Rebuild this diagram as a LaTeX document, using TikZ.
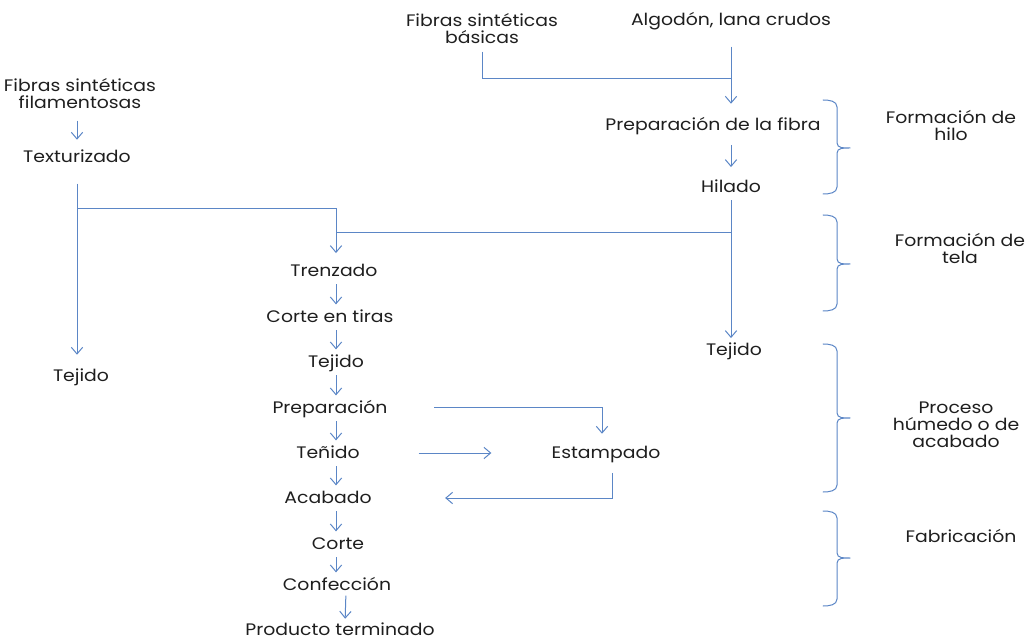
\documentclass[tikz,border=0pt]{standalone}
\usepackage{fontspec}
\setmainfont[FakeStretch=1.13]{Poppins}
\usetikzlibrary{arrows.meta}
\definecolor{flujo}{RGB}{91,134,198}
\definecolor{texto}{RGB}{30,30,30}
\begin{document}
\begin{tikzpicture}[x=0.75pt,y=-0.75pt,
  nota/.style={font=\fontsize{12.5}{12.75}\selectfont, text=texto, inner sep=0pt, align=center},
  paso/.style={nota, text height=8.5pt, text depth=0pt},
  linea/.style={draw=flujo, line width=0.75pt},
  flecha/.style={linea, -{Straight Barb[length=5pt,width=8.5pt]}},
  llave/.style={draw=flujo, line width=0.75pt, line cap=round}]
\useasboundingbox (0,0) rectangle (1028,641);
\coordinate (main) at (336,0);
\node[nota] (fsb) at (482,29) {Fibras sintéticas\\básicas};
\node[paso] (alg) at (731,20) {Algodón, lana crudos};
\node[paso] (prepf) at (713,125) {Preparación de la fibra};
\node[paso] (hil) at (731,187) {Hilado};
\node[paso] (tejr) at (734,350) {Tejido};
\node[nota] (fsf) at (80,94) {Fibras sintéticas\\filamentosas};
\node[paso] (tex) at (77,157) {Texturizado};
\node[paso] (tejl) at (81,376) {Tejido};
\node[paso] (trenz) at (334,271) {Trenzado};
\node[paso] (ctir) at (330,317) {Corte en tiras};
\node[paso] (tejm) at (336,362) {Tejido};
\node[paso] (prep) at (330,408) {Preparación};
\node[paso] (ten) at (328,453) {Teñido};
\node[paso] (acab) at (328,498) {Acabado};
\node[paso] (corte) at (338,544) {Corte};
\node[paso] (conf) at (337,585) {Confección};
\node[paso] (prod) at (340,630) {Producto terminado};
\node[paso] (estamp) at (606,453) {Estampado};
\node[nota] (fhilo) at (951,126) {Formación de\\hilo};
\node[nota] (ftela) at (960,249) {Formación de\\tela};
\node[nota] (proc) at (956,425) {Proceso\\húmedo o de\\acabado};
\node[paso] (fabr) at (961,537) {Fabricación};
\coordinate (j1) at (731,79);
\coordinate (j2) at (731,233);
\coordinate (j3) at (77,209);
\draw[linea, shorten <=5.5pt] (fsb.south) |- (j1);
\draw[flecha, shorten <=15.5pt, shorten >=11.5pt] (alg.south) -- (alg.south |- prepf.north);
\draw[flecha, shorten <=10.5pt, shorten >=10.5pt] (prepf.south -| hil) -- (hil.north);
\draw[flecha, shorten <=5.5pt, shorten >=4.5pt] (hil.south) -- (hil.south |- tejr.north);
\draw[linea] (j2) -- (j2 -| main);
\draw[flecha, shorten <=8.5pt, shorten >=8.5pt] (fsf.south -| tex) -- (tex.north);
\draw[flecha, shorten <=15.5pt, shorten >=11.5pt] (tex.south) -- (tex.south |- tejl.north);
\draw[flecha, shorten >=9pt] (j3) -| (trenz.north -| main);
\foreach \a/\b in {trenz/ctir, ctir/tejm, tejm/prep, prep/ten, ten/acab, acab/corte, corte/conf}
  \draw[flecha, shorten <=5.5pt, shorten >=5pt] (\a.south -| main) -- (\b.north -| main);
\draw[flecha, shorten <=3.5pt, shorten >=4pt] ([xshift=6.75pt]conf.south) -- ([xshift=3.75pt]prod.north);
\draw[flecha, shorten <=35pt, shorten >=10pt] (prep.east) -| ([xshift=-3pt]estamp.north);
\draw[flecha, shorten <=44pt, shorten >=45pt] (ten.east) -- (estamp.west);
\draw[flecha, shorten <=10.5pt, shorten >=55pt] ([xshift=4.5pt]estamp.south) |- (acab.east);
\foreach \t/\m/\b in {100/148/194, 215/264/311, 344/418/492, 511/558/606}
  \draw[llave] (823,\t) to[out=0,in=90] (837,\t+7) -- (837,\m-5) to[out=-90,in=180] (850,\m)
    (850,\m) to[out=180,in=90] (837,\m+5) -- (837,\b-7) to[out=-90,in=0] (823,\b);
\end{tikzpicture}
\end{document}
